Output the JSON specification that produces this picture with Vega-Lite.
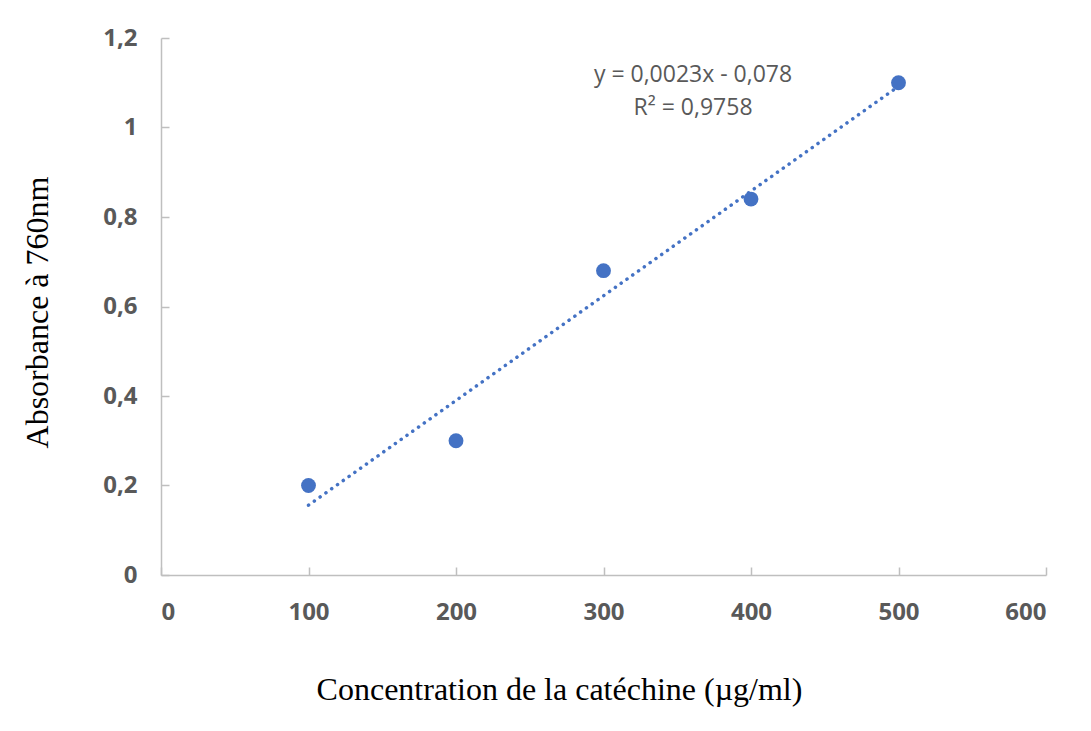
{
  "$schema": "https://vega.github.io/schema/vega-lite/v6.json",
  "autosize": "none",
  "width": 885,
  "height": 537,
  "padding": {"left": 161, "top": 38, "right": 45, "bottom": 156},
  "background": "white",
  "config": {
    "view": {"stroke": null},
    "axis": {
      "grid": false,
      "domainColor": "#bfbfbf",
      "domainWidth": 1.5,
      "tickColor": "#bfbfbf",
      "tickWidth": 1.5,
      "tickSize": -8,
      "labelFont": "Open Sans",
      "labelFontWeight": "bold",
      "labelFontSize": 24,
      "labelColor": "#595959",
      "titleFont": "Liberation Serif",
      "titleFontWeight": "normal",
      "titleFontSize": 32,
      "titleColor": "#000000"
    }
  },
  "data": {
    "values": [
      {"concentration": 100, "absorbance": 0.2},
      {"concentration": 200, "absorbance": 0.3},
      {"concentration": 300, "absorbance": 0.68},
      {"concentration": 400, "absorbance": 0.84},
      {"concentration": 500, "absorbance": 1.1}
    ]
  },
  "layer": [
    {
      "transform": [
        {"regression": "absorbance", "on": "concentration", "method": "linear", "extent": [100, 500]}
      ],
      "mark": {"type": "line", "color": "#4472C4", "strokeWidth": 3.5, "strokeCap": "round", "strokeDash": [0.1, 7]},
      "encoding": {
        "x": {"field": "concentration", "type": "quantitative"},
        "y": {"field": "absorbance", "type": "quantitative"}
      }
    },
    {
      "mark": {"type": "circle", "color": "#4472C4", "opacity": 1, "size": 220},
      "encoding": {
        "x": {
          "field": "concentration",
          "type": "quantitative",
          "scale": {"domain": [0, 600], "nice": false},
          "axis": {
            "values": [0, 100, 200, 300, 400, 500, 600],
            "labelPadding": 33,
            "title": "Concentration de la catéchine (µg/ml)",
            "titlePadding": 50,
            "titleX": 398
          }
        },
        "y": {
          "field": "absorbance",
          "type": "quantitative",
          "scale": {"domain": [0, 1.2], "nice": false},
          "axis": {
            "values": [0, 0.2, 0.4, 0.6, 0.8, 1, 1.2],
            "labelExpr": "replace(format(datum.value, '~g'), '.', ',')",
            "labelPadding": 32,
            "title": "Absorbance à 760nm",
            "titlePadding": 48,
            "titleY": 274
          }
        }
      }
    },
    {
      "data": {"values": [{"label": "y = 0,0023x - 0,078"}]},
      "mark": {"type": "text", "font": "Open Sans", "fontSize": 23, "color": "#595959", "align": "center", "baseline": "middle"},
      "encoding": {
        "x": {"datum": 360.7, "type": "quantitative"},
        "y": {"datum": 1.117, "type": "quantitative"},
        "text": {"field": "label"}
      }
    },
    {
      "data": {"values": [{"label": "R² = 0,9758"}]},
      "mark": {"type": "text", "font": "Open Sans", "fontSize": 23, "color": "#595959", "align": "center", "baseline": "middle"},
      "encoding": {
        "x": {"datum": 360.7, "type": "quantitative"},
        "y": {"datum": 1.044, "type": "quantitative"},
        "text": {"field": "label"}
      }
    }
  ]
}
